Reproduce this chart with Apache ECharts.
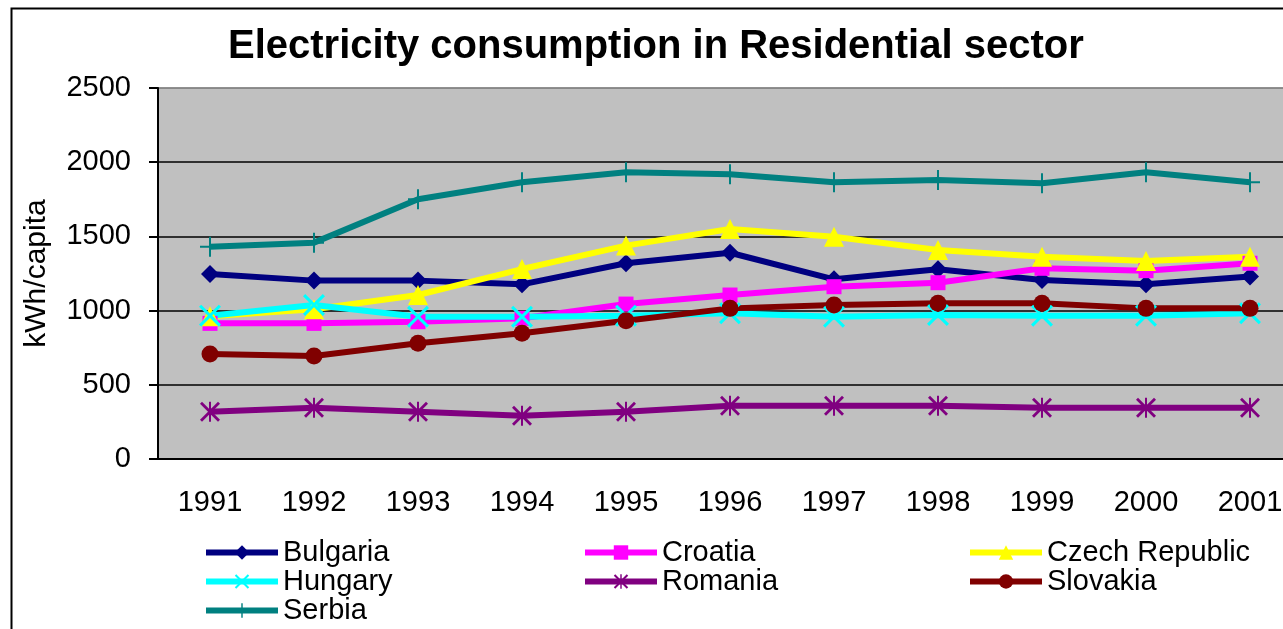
<!DOCTYPE html>
<html>
<head>
<meta charset="utf-8">
<script src="https://cdn.jsdelivr.net/npm/echarts@6/dist/echarts.min.js"></script>
<style>
    html, body {margin: 0; padding: 0; background: #fff;}
    #main {width: 1283px; height: 629px;}
</style>
</head>
<body>
<div id="main"></div>
<script>
    var years = ['1991', '1992', '1993', '1994', '1995', '1996', '1997', '1998', '1999', '2000', '2001'];

    var bulgaria = [1247, 1202, 1202, 1177, 1319, 1390, 1211, 1278, 1206, 1177, 1229];
    var croatia  = [914, 914, 925, 948, 1044, 1105, 1161, 1188, 1285, 1269, 1319];
    var czech    = [962, 1009, 1105, 1280, 1438, 1550, 1498, 1408, 1363, 1334, 1363];
    var hungary  = [966, 1038, 959, 959, 966, 982, 959, 970, 966, 966, 982];
    var romania  = [319, 346, 319, 292, 319, 359, 359, 359, 346, 346, 346];
    var slovakia = [708, 694, 780, 847, 932, 1015, 1038, 1049, 1049, 1015, 1015];
    var serbia   = [1431, 1458, 1750, 1865, 1932, 1919, 1865, 1880, 1858, 1932, 1865];

    var yTicks = [0, 500, 1000, 1500, 2000, 2500];

    var font = "'Liberation Sans', Arial, sans-serif";

    // excel-like markers
    var plusPath = 'path://M9,0h2v20h-2z M0,9h20v2h-20z';
    var crossPath = 'path://M0,2L2,0L20,18L18,20Z M18,0L20,2L2,20L0,18Z';
    var starPath = 'path://M0,2L2,0L20,18L18,20Z M18,0L20,2L2,20L0,18Z M9,0h2v20h-2z';

    function line(name, data, color, symbol, size) {
        return {
            name: name, type: 'line', data: data,
            symbol: symbol, symbolSize: size, showAllSymbol: true,
            lineStyle: {color: color, width: 6},
            itemStyle: {color: color, borderWidth: 0},
            emphasis: {disabled: true}
        };
    }

    function legendCol(names, left) {
        return {
            data: names, left: left, top: 538, orient: 'vertical', padding: 0, height: 90,
            itemWidth: 72, itemHeight: 18, itemGap: 0,
            lineStyle: {width: 6},
            textStyle: {fontSize: 29, color: '#000', fontFamily: font, lineHeight: 28}
        };
    }

    var chart = echarts.init(document.getElementById('main'));
    chart.setOption({
        animation: false,
        backgroundColor: '#fff',
        title: {
            text: 'Electricity consumption in Residential sector',
            left: 228, top: 27, padding: 0,
            textStyle: {fontSize: 40, fontWeight: 'bold', color: '#000', fontFamily: font}
        },
        graphic: [{
            type: 'rect', left: 9, top: 6,
            shape: {width: 1320, height: 700},
            style: {fill: 'none', stroke: '#000', lineWidth: 2}
        }],
        grid: {
            left: 158, top: 88, width: 1144, height: 371,
            outerBoundsMode: 'none', containLabel: false,
            show: true, backgroundColor: '#C0C0C0', borderColor: '#808080', borderWidth: 1
        },
        legend: [
            legendCol(['Bulgaria', 'Hungary', 'Serbia'], 203),
            legendCol(['Croatia', 'Romania'], 582),
            legendCol(['Czech Republic', 'Slovakia'], 967)
        ],
        xAxis: {
            type: 'category', data: years, boundaryGap: true,
            axisLine: {lineStyle: {color: '#000', width: 2}},
            axisTick: {length: 9, lineStyle: {color: '#000', width: 2}},
            axisLabel: {fontSize: 29, color: '#000', fontFamily: font, margin: 29, interval: 0},
            splitLine: {show: false}
        },
        yAxis: {
            type: 'value', min: yTicks[0], max: yTicks[yTicks.length - 1], interval: 500,
            name: 'kWh/capita', nameLocation: 'middle', nameGap: 106, nameRotate: 90,
            nameTextStyle: {fontSize: 30, color: '#000', fontFamily: font},
            axisLine: {show: true, lineStyle: {color: '#000', width: 2}},
            axisTick: {show: true, length: 9, lineStyle: {color: '#000', width: 2}},
            axisLabel: {fontSize: 29, color: '#000', fontFamily: font, margin: 27,
                formatter: function (v) { return String(v); }},
            splitLine: {show: true, lineStyle: {color: ['#000', '#000', '#000', '#000', '#000', '#808080'], width: 1.5}}
        },
        series: [
            line('Bulgaria', bulgaria, '#000080', 'diamond', 18),
            line('Croatia', croatia, '#FF00FF', 'rect', 15),
            line('Czech Republic', czech, '#FFFF00', 'triangle', 20),
            line('Hungary', hungary, '#00FFFF', crossPath, 22),
            line('Romania', romania, '#800080', starPath, 20),
            line('Slovakia', slovakia, '#800000', 'circle', 17),
            line('Serbia', serbia, '#008080', plusPath, 20)
        ]
    });
</script>
</body>
</html>
